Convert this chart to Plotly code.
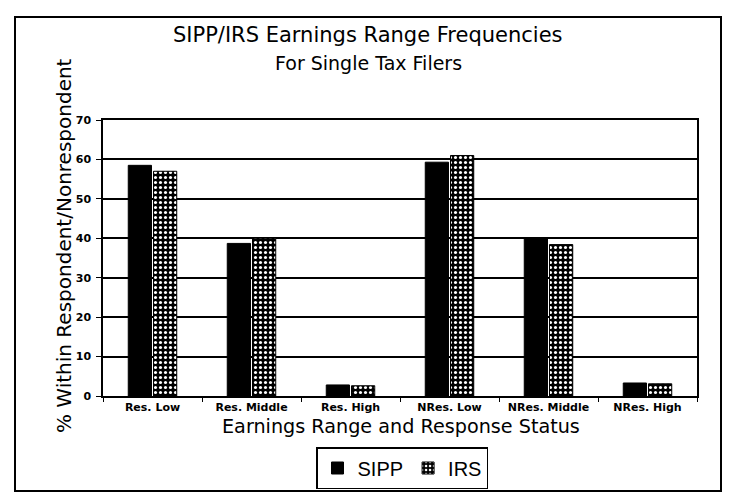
import plotly.graph_objects as go

categories = ["Res. Low", "Res. Middle", "Res. High", "NRes. Low", "NRes. Middle", "NRes. High"]
sipp = [58.5, 38.7, 2.8, 59.3, 40.0, 3.3]
irs = [57.0, 40.0, 2.6, 61.0, 38.4, 3.1]

title_text = "SIPP/IRS Earnings Range Frequencies"
subtitle_text = "For Single Tax Filers"
x_title = "Earnings Range and Response Status"
y_title = "% Within Respondent/Nonrespondent"

# the page has an 8px body margin, so the figure is drawn 8px in from the top-left
OFF = 8
W, H = 730 - 2 * OFF, 500 - 2 * OFF
# plot area in page pixels: x 103..697, y 120..396
L, R, T, B = 103 - OFF, (W + OFF) - 697, 120 - OFF, (H + OFF) - 396
PW, PH = W - L - R, H - T - B


def px_x(x):
    return (x - OFF - L) / PW


def px_y(y):
    return (H - B - (y - OFF)) / PH


sans = "DejaVu Sans, sans-serif"

fig = go.Figure()
fig.add_trace(go.Bar(
    x=categories, y=sipp, name="SIPP",
    marker=dict(color="black", line=dict(color="black", width=1)),
))
fig.add_trace(go.Bar(
    x=categories, y=irs, name="IRS",
    marker=dict(color="black", line=dict(color="black", width=1),
                pattern=dict(shape=".", fgcolor="white", bgcolor="black",
                             size=5, solidity=0.3, fillmode="replace")),
))

fig.update_layout(
    width=W, height=H,
    paper_bgcolor="white", plot_bgcolor="white",
    margin=dict(l=L, r=R, t=T, b=B, autoexpand=False),
    barmode="group", bargap=0.49, bargroupgap=0.08,
    font=dict(family=sans, color="black"),
    showlegend=True,
    legend=dict(orientation="h", x=px_x(402), xanchor="center",
                y=px_y(447), yanchor="top",
                bordercolor="black", borderwidth=1.5,
                font=dict(size=20, family="Liberation Sans, Arial, sans-serif", color="black"),
                tracegroupgap=0),
    annotations=[
        dict(text=title_text, xref="paper", yref="paper",
             x=px_x(368), y=px_y(35), xanchor="center", yanchor="middle",
             showarrow=False, font=dict(size=21, family=sans)),
        dict(text=subtitle_text, xref="paper", yref="paper",
             x=px_x(368), y=px_y(63), xanchor="center", yanchor="middle",
             showarrow=False, font=dict(size=19, family=sans)),
        dict(text=x_title, xref="paper", yref="paper",
             x=px_x(401), y=px_y(426), xanchor="center", yanchor="middle",
             showarrow=False, font=dict(size=19.2, family=sans)),
        dict(text=y_title, xref="paper", yref="paper", textangle=-90,
             x=px_x(64), y=px_y(246), xanchor="center", yanchor="middle",
             showarrow=False, font=dict(size=20, family=sans)),
    ],
    shapes=[
        dict(type="rect", xref="paper", yref="paper",
             x0=px_x(15), x1=px_x(W + OFF - 1), y0=px_y(H + OFF - 1), y1=px_y(17),
             line=dict(color="black", width=2), layer="below"),
    ],
)

fig.update_xaxes(
    automargin=False,
    showline=True, linecolor="black", linewidth=1.5, mirror=True,
    ticks="outside", tickson="boundaries", ticklen=4, tickcolor="black",
    tickfont=dict(size=11, family=sans, color="black", weight="bold"),
    showgrid=False,
)
fig.update_yaxes(
    automargin=False,
    range=[0, 70], dtick=10,
    showline=True, linecolor="black", linewidth=1.5, mirror=True,
    ticks="outside", ticklen=5, tickcolor="black", ticklabelstandoff=3,
    tickfont=dict(size=11, family=sans, color="black", weight="bold"),
    showgrid=True, gridcolor="black", gridwidth=1.5,
    zeroline=False,
)

fig.write_html("out.html")
